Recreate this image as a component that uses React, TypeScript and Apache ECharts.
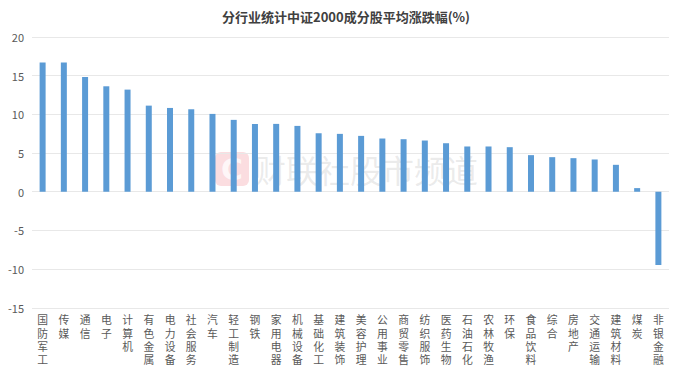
import React, { useEffect, useRef } from "react";
import * as echarts from "echarts";

const titleText = "分行业统计中证2000成分股平均涨跌幅(%)";
const categories = [
  "国防军工", "传媒", "通信", "电子", "计算机", "有色金属", "电力设备", "社会服务", "汽车", "轻工制造",
  "钢铁", "家用电器", "机械设备", "基础化工", "建筑装饰", "美容护理", "公用事业", "商贸零售", "纺织服饰", "医药生物",
  "石油石化", "农林牧渔", "环保", "食品饮料", "综合", "房地产", "交通运输", "建筑材料", "煤炭", "非银金融",
];
const values = [
  16.72, 16.72, 14.83, 13.63, 13.2, 11.13, 10.83, 10.66, 10.06, 9.29,
  8.77, 8.77, 8.51, 7.56, 7.48, 7.22, 6.88, 6.79, 6.62, 6.27,
  5.85, 5.85, 5.76, 4.73, 4.47, 4.34, 4.17, 3.48, 0.47, -9.47,
];
const yMin = -15;
const yMax = 20;
const yInterval = 5;
const watermarkText = "财联社股市频道";

export default function App() {
  const ref = useRef<HTMLDivElement>(null);
  useEffect(() => {
    if (!ref.current) return;
    const chart = echarts.init(ref.current, undefined, { renderer: "svg" });
    chart.setOption({
      animation: false,
      backgroundColor: "#ffffff",
      title: {
        text: titleText,
        left: "center",
        top: 5,
        textStyle: { fontSize: 13, fontWeight: "bold", color: "#404040", fontFamily: "Noto Sans CJK SC" },
      },
      grid: { left: 32, right: 23, top: 37, bottom: 57.5 },
      xAxis: {
        type: "category",
        data: categories,
        position: "bottom",
        axisLine: { show: false },
        axisTick: { show: false },
        axisLabel: {
          interval: 0,
          margin: 5,
          verticalAlign: "top",
          lineHeight: 13.3,
          fontSize: 10.8,
          color: "#595959",
          fontFamily: "Noto Sans CJK SC",
          formatter: (v: string) => v.split("").join("\n"),
        },
      },
      yAxis: {
        type: "value",
        min: yMin,
        max: yMax,
        interval: yInterval,
        axisLine: { show: false },
        axisTick: { show: false },
        axisLabel: { fontSize: 11, color: "#595959", margin: 8, fontFamily: "Noto Sans CJK SC" },
        splitLine: { lineStyle: { color: "#e8e8e8", width: 1 } },
      },
      series: [
        {
          type: "bar",
          data: values,
          barWidth: 6,
          itemStyle: { color: "#5b9bd5" },
        },
      ],
      graphic: [
        {
          type: "group",
          z: 100,
          children: [
            {
              type: "rect",
              shape: { x: 215, y: 152, width: 34, height: 34, r: 6 },
              style: { fill: "rgba(240,120,130,0.25)" },
            },
            {
              type: "text",
              x: 232,
              y: 169,
              style: {
                text: "C",
                fontSize: 30,
                fontWeight: "bold",
                fill: "rgba(255,255,255,0.75)",
                align: "center",
                verticalAlign: "middle",
                fontFamily: "DejaVu Sans",
              },
            },
            {
              type: "text",
              x: 254,
              y: 169,
              style: {
                text: watermarkText,
                fontSize: 32,
                fill: "rgba(150,150,150,0.2)",
                verticalAlign: "middle",
                fontFamily: "Noto Sans CJK SC",
              },
            },
          ],
        },
      ],
    });
    return () => chart.dispose();
  }, []);
  return <div ref={ref} style={{ width: 692, height: 366, position: "absolute", left: 0, top: 0 }} />;
}
